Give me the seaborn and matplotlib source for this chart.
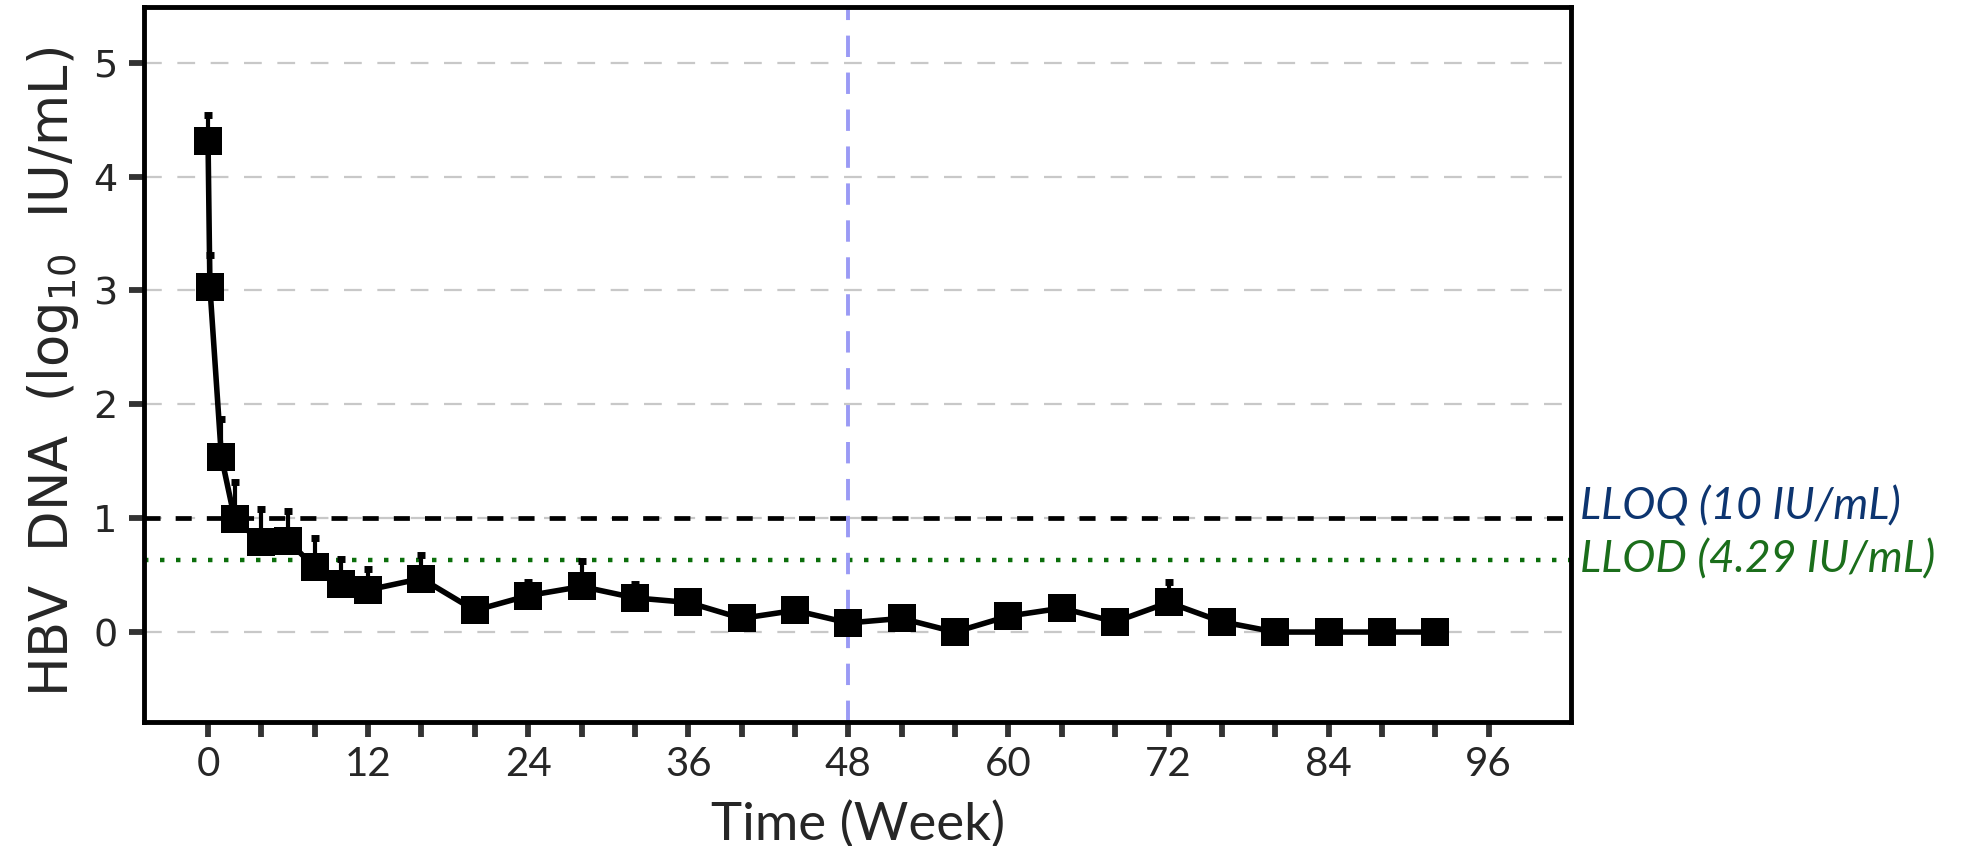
import numpy as np
import pandas as pd
import matplotlib
matplotlib.use("Agg")
import matplotlib.pyplot as plt
from matplotlib.ticker import FixedLocator, FuncFormatter, MultipleLocator
import seaborn as sns

# ---- data ----
weeks = [0, 0.14, 1, 2, 4, 6, 8, 10, 12, 16, 20, 24, 28, 32, 36, 40, 44, 48,
         52, 56, 60, 64, 68, 72, 76, 80, 84, 88, 92]
hbv_dna = [4.31, 3.03, 1.54, 0.99, 0.79, 0.80, 0.57, 0.42, 0.37, 0.47, 0.19,
           0.32, 0.40, 0.30, 0.26, 0.12, 0.19, 0.08, 0.12, 0.00, 0.14, 0.21,
           0.09, 0.26, 0.09, 0.00, 0.00, 0.00, 0.00]
err_upper = [0.23, 0.28, 0.33, 0.33, 0.29, 0.26, 0.26, 0.22, 0.18, 0.21, 0.03,
             0.12, 0.22, 0.12, 0.08, 0.05, 0.06, 0.05, 0.05, 0.0, 0.05, 0.06,
             0.05, 0.18, 0.04, 0.0, 0.0, 0.0, 0.0]
x_ticks = list(range(0, 97, 4))
lloq_value = 1.0
llod_value = 0.632
week_marker = 48
lloq_label = "LLOQ (10 IU/mL)"
llod_label = "LLOD (4.29 IU/mL)"
x_label = "Time (Week)"
y_label = r"HBV  DNA  $\left(\mathregular{log_{10}}\ \ \mathregular{IU/mL}\right)$"

df = pd.DataFrame({"week": weeks, "dna": hbv_dna, "err": err_upper})

sns.set_style("white")
plt.rcParams["font.family"] = ["DejaVu Sans"]
plt.rcParams["mathtext.fontset"] = "dejavusans"

fig = plt.figure(figsize=(19.62, 8.46), dpi=100)
ax = fig.add_axes([0.0734, 0.1466, 0.7275, 0.8451])

# grid
for yv in range(0, 6):
    ax.axhline(yv, color="#c8c8c8", lw=1.6, ls=(0, (8, 7)), zorder=0)

# reference lines
ax.axhline(lloq_value, color="black", lw=3.4, ls=(0, (3.4, 3.2)), zorder=1)
ax.axhline(llod_value, color="#0b6e0b", lw=3.2, ls=(0, (1, 2.6)), zorder=1)
ax.axvline(week_marker, color="#9a9af5", lw=2.8, ls=(0, (5.5, 4)), zorder=1)

# error bars (upper only)
ax.errorbar(df["week"], df["dna"], yerr=[np.zeros(len(df)), df["err"]],
            fmt="none", ecolor="black", elinewidth=3, capsize=3.2, capthick=5,
            zorder=2)

sns.lineplot(data=df, x="week", y="dna", ax=ax, color="black", linewidth=4,
             marker="s", markersize=19.5, markeredgewidth=0, sort=False,
             zorder=3, legend=False)

ax.set_xlim(-4.8, 102.2)
ax.set_ylim(-0.79, 5.49)

ax.xaxis.set_major_locator(FixedLocator(x_ticks))
ax.xaxis.set_major_formatter(FuncFormatter(lambda v, p: f"{int(round(v))}" if int(round(v)) % 12 == 0 else ""))
ax.yaxis.set_major_locator(MultipleLocator(1))

for s in ax.spines.values():
    s.set_linewidth(3.5)
    s.set_color("black")

ax.tick_params(axis="both", which="major", direction="out", length=11,
               width=4.2, color="#333333", bottom=True, left=True)
ax.tick_params(axis="x", labelsize=29, pad=6)
ax.tick_params(axis="y", labelsize=27.5, pad=8)
for lab in ax.get_xticklabels():
    lab.set_family(["Lato", "DejaVu Sans"])

ax.set_xlabel(x_label, fontsize=38, family=["Lato", "DejaVu Sans"], labelpad=13)
ax.set_ylabel(y_label, fontsize=38, va="center")
ax.yaxis.set_label_coords(-0.0635, 0.49)

# annotations at right
ax.annotate(lloq_label, xy=(1.0, lloq_value), xycoords=("axes fraction", "data"),
            xytext=(6, 8), textcoords="offset points", ha="left", va="center",
            fontsize=32, style="italic", color="#0d3570",
            family=["Lato", "DejaVu Sans"], annotation_clip=False)
ax.annotate(llod_label, xy=(1.0, llod_value), xycoords=("axes fraction", "data"),
            xytext=(6, 0), textcoords="offset points", ha="left", va="center",
            fontsize=32, style="italic", color="#1b6e1b",
            family=["Lato", "DejaVu Sans"], annotation_clip=False)

fig.savefig("out.png", dpi=100)
